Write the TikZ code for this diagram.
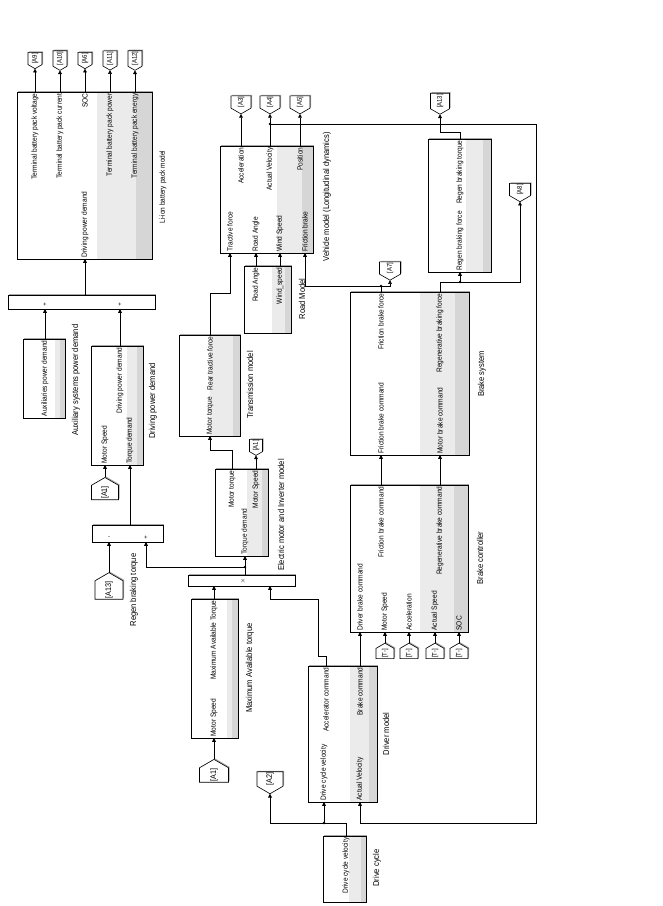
\documentclass[tikz,border=0pt]{standalone}
\usepackage{fontspec}
\setmainfont{Liberation Sans}
\newfontfamily\narrowsf[FakeStretch=0.88]{Liberation Sans}
\usetikzlibrary{arrows.meta,calc,shapes.symbols,shadows}
\newcommand{\portfont}{\narrowsf\fontsize{7.5}{8}\selectfont}
\newcommand{\capfont}{\narrowsf\fontsize{8.6}{9}\selectfont}
\newcommand{\tagfont}{\narrowsf\fontsize{6.8}{7}\selectfont}
\newcommand{\bigtagfont}{\narrowsf\fontsize{8.2}{8}\selectfont}
\tikzset{shade from/.store in=\shadefrom, shade from=0.6}
\newcommand{\upsig}[3]{%
  \draw[sig] (#1 |- #2.north) -- (#1 |- #3.south);%
}
\newcommand{\totag}[3]{%
  \draw[sig] (#1 |- #2.north) -- (#3.west);%
}
\newcommand{\fromsig}[2]{%
  \draw[sig] (#1.east) -- (#1 |- #2.south);%
}

\begin{document}
\begin{tikzpicture}[
  x=1pt,
  y=-1pt,
  line width=0.6pt,
  blk/.style={draw, fill=white, inner sep=0pt, outer sep=0pt,
    general shadow={fill=black!35, shadow xshift=1.2pt, shadow yshift=1.2pt},
    path picture={
      \fill[black!8] ($(path picture bounding box.south west)!\shadefrom!(path picture bounding box.south east)$)
        rectangle (path picture bounding box.north east);
      \fill[black!16] ($(path picture bounding box.south west)!0.88!(path picture bounding box.south east)$)
        rectangle (path picture bounding box.north east);
    }},
  sumblk/.style={draw, fill=white, inner sep=0pt, outer sep=0pt,
    general shadow={fill=black!35, shadow xshift=1.2pt, shadow yshift=1.2pt}},
  sign/.style={font=\fontsize{6}{6}\selectfont, inner sep=0pt},
  portin/.style={rotate=90, anchor=west, font=\portfont, inner sep=1.2pt},
  portout/.style={rotate=90, anchor=east, font=\portfont, inner sep=1.2pt},
  blkcap/.style={rotate=90, font=\capfont, inner sep=0pt},
  gototag/.style={rotate=90, signal, signal to=west, signal pointer angle=120, draw, fill=white,
    font=\tagfont, inner xsep=0.8pt, inner ysep=0.3pt, outer sep=0pt,
    general shadow={fill=black!35, shadow xshift=1pt, shadow yshift=1pt}},
  fromtag/.style={gototag, signal to=east},
  sig/.style={-{Triangle[length=3.8pt, width=3.8pt]}}
]
  \useasboundingbox (0,0) rectangle (663,906);

  % Battery pack component.
  \node[blk, minimum width=135pt, minimum height=167pt, shade from=0.59] (batt) at (84.5,175.5) {};
  \node[portout] (battV) at (35,92) {Terminal battery pack voltage};
  \node[portout] (battI) at (60,92) {Terminal battery pack current};
  \node[portout] (battSoc) at (85,92) {SOC};
  \node[portout] (battP) at (110,92) {Terminal battery pack power};
  \node[portout] (battE) at (135,92) {Terminal battery pack energy};
  \node[portin] (battDrv) at (85,259) {Driving power demand};
  \node[blkcap, font=\narrowsf\fontsize{7.4}{8}\selectfont] (battCap) at (163,187) {Li-ion battery pack model};
  \node[gototag, minimum height=14pt] (tA9) at (35,58.5) {[A9]};
  \node[gototag, minimum height=14pt] (tA10) at (60,58.5) {[A10]};
  \node[gototag, minimum height=14pt] (tA6) at (85,58.5) {[A6]};
  \node[gototag, minimum height=14pt] (tA11) at (110,58.5) {[A11]};
  \node[gototag, minimum height=14pt] (tA12) at (135,58.5) {[A12]};

  % Power demand component.
  \node[sumblk, minimum width=147pt, minimum height=14pt] (sumA) at (81.5,302) {};
  \node[sign] (sumAp1) at (45,305) {+};
  \node[sign] (sumAp2) at (120,305) {+};
  \node[blk, minimum width=42pt, minimum height=79pt, shade from=0.76] (aux) at (44,378.5) {};
  \node[portout] (auxOut) at (45,339) {Auxiliaries power demand};
  \node[blkcap] (auxCap) at (76,380) {Auxiliary systems power demand};
  \node[blk, minimum width=52pt, minimum height=119pt, shade from=0.69] (drvp) at (117,405.5) {};
  \node[portout] (drvpOut) at (120,346) {Driving power demand};
  \node[portin] (drvpMs) at (105,465) {Motor Speed};
  \node[portin] (drvpTd) at (130,465) {Torque demand};
  \node[blkcap] (drvpCap) at (153,401) {Driving power demand};
  \node[fromtag, minimum height=27pt, font=\bigtagfont] (fA1a) at (105,492.5) {[A1]};

  % Torque demand component.
  \node[sumblk, minimum width=71pt, minimum height=17pt] (sumB) at (127.5,533.5) {};
  \node[sign] (sumBm) at (109,538) {-};
  \node[sign] (sumBp) at (146,538) {+};
  \node[fromtag, minimum height=28pt, font=\bigtagfont] (fA13) at (109,590) {[A13]};
  \node[blkcap] (regCap) at (134,590) {Regen braking torque};
  \node[sumblk, minimum width=107pt, minimum height=11pt] (prod) at (241.5,580.5) {};
  \node[sign] (prodX) at (243,580.5) {$\times$};
  \node[blk, minimum width=47pt, minimum height=139pt, shade from=0.77] (maxT) at (214.5,668.5) {};
  \node[portout] (maxTOut) at (214,599) {Maximum Available Torque};
  \node[portin] (maxTMs) at (214,738) {Motor Speed};
  \node[blkcap] (maxTCap) at (250,668) {Maximum Available torque};
  \node[fromtag, minimum height=29pt, font=\bigtagfont] (fA1b) at (214,775) {[A1]};

  % Motor and transmission component.
  \node[blk, minimum width=53pt, minimum height=87pt, shade from=0.6] (elec) at (241.5,512.5) {};
  \node[portout] (elecMt) at (232,469) {Motor torque};
  \node[portout] (elecMs) at (256,469) {Motor Speed};
  \node[portin] (elecTd) at (245,556) {Torque demand};
  \node[blkcap] (elecCap) at (281,515) {Electric motor and Inverter model};
  \node[gototag, minimum height=13pt] (tA1) at (256,445.5) {[A1]};
  \node[blk, minimum width=61pt, minimum height=101pt, shade from=0.5] (trans) at (209.5,385.5) {};
  \node[portin] (transIn) at (210,436) {Motor torque};
  \node[portout] (transOut) at (210,335) {Rear tractive force};
  \node[blkcap] (transCap) at (250,385) {Transmission model};

  % Vehicle and road component.
  \node[blk, minimum width=93pt, minimum height=107pt, shade from=0.61] (veh) at (266.5,199.5) {};
  \node[portin] (vehTf) at (230,253) {Tractive force};
  \node[portin] (vehRa) at (256,253) {Road Angle};
  \node[portin] (vehWs) at (280,253) {Wind Speed};
  \node[portin] (vehFb) at (305,253) {Friction brake};
  \node[portout] (vehAcc) at (241,146) {Acceleration};
  \node[portout] (vehAv) at (270,146) {Actual Velocity};
  \node[portout] (vehPos) at (300,146) {Position};
  \node[blkcap] (vehCap) at (327,197) {Vehicle model (Longitudinal dynamics)};
  \node[gototag, minimum height=20pt] (tA3) at (241,102) {[A3]};
  \node[gototag, minimum height=20pt] (tA4) at (270,102) {[A4]};
  \node[gototag, minimum height=20pt] (tA5) at (300,102) {[A5]};
  \node[blk, minimum width=47pt, minimum height=67pt, shade from=0.6] (road) at (267.5,299.5) {};
  \node[portout] (roadRa) at (256,266) {Road Angle};
  \node[portout] (roadWs) at (280,266) {Wind\_speed};
  \node[blkcap] (roadCap) at (302,299) {Road Model};

  % Brake component.
  \node[blk, minimum width=119pt, minimum height=163pt, shade from=0.59] (bsys) at (409.5,373.5) {};
  \node[portin] (bsysFc) at (381,455) {Friction brake command};
  \node[portin] (bsysMc) at (440,455) {Motor brake command};
  \node[portout] (bsysFf) at (381,292) {Friction brake force};
  \node[portout] (bsysRf) at (440,292) {Regenerative braking force};
  \node[blkcap] (bsysCap) at (482,374) {Brake system};
  \node[blk, minimum width=118pt, minimum height=147pt, shade from=0.59] (bctl) at (409,558.5) {};
  \node[portin] (bctlDb) at (360,632) {Driver brake command};
  \node[portin] (bctlMs) at (385,632) {Motor Speed};
  \node[portin] (bctlAcc) at (409,632) {Acceleration};
  \node[portin] (bctlAs) at (435,632) {Actual Speed};
  \node[portin] (bctlSoc) at (459,632) {SOC};
  \node[portout] (bctlFc) at (381,485) {Friction brake command};
  \node[portout] (bctlRc) at (440,485) {Regenerative brake command};
  \node[blkcap] (bctlCap) at (480,558) {Brake controller};
  \node[fromtag, minimum height=18pt] (fT1) at (385,653.5) {[T-]};
  \node[fromtag, minimum height=18pt] (fT2) at (409,653.5) {[T-]};
  \node[fromtag, minimum height=18pt] (fT3) at (435,653.5) {[T-]};
  \node[fromtag, minimum height=18pt] (fT4) at (459,653.5) {[T-]};
  \node[blk, minimum width=63pt, minimum height=133pt, shade from=0.6] (regen) at (459.5,205.5) {};
  \node[portin] (regenIn) at (460,272) {Regen braking force};
  \node[portout] (regenOut) at (460,139) {Regen braking torque};
  \node[gototag, minimum height=19pt] (tA13) at (440,101) {[A13]};
  \node[gototag, minimum height=21pt] (tA8) at (520,189.5) {[A8]};
  \node[gototag, minimum height=21pt] (tA7) at (390,268) {[A7]};

  % Driver and drive cycle component.
  \node[blk, minimum width=69pt, minimum height=136pt, shade from=0.61] (driver) at (342.5,734) {};
  \node[portin] (drvDcv) at (324,802) {Drive cycle velocity};
  \node[portin] (drvAv) at (360,802) {Actual Velocity};
  \node[portout] (drvAcc) at (326,666) {Accelerator command};
  \node[portout] (drvBc) at (360,666) {Brake command};
  \node[blkcap] (drvCap) at (386,734) {Driver model};
  \node[blk, minimum width=43pt, minimum height=66pt, shade from=0.6] (cycle) at (344.5,869) {};
  \node[portout] (cycleOut) at (346,836) {Drive cycle velocity};
  \node[blkcap] (cycleCap) at (377,868) {Drive cycle};
  \node[gototag, minimum height=26pt, font=\bigtagfont] (tA2) at (270,779) {[A2]};

  % Branch points.
  \coordinate (jTorque) at (245,567);
  \coordinate (jVel) at (270,124);
  \coordinate (velCorner) at (536,823);
  \coordinate (jFric) at (381,286);
  \coordinate (jRegen) at (460,282);
  \coordinate (jCyc) at (324,823);

  % Power signals.
  \upsig{battDrv}{sumA}{batt}
  \upsig{sumAp1}{aux}{sumA}
  \upsig{sumAp2}{drvp}{sumA}
  \totag{battV}{batt}{tA9}
  \totag{battI}{batt}{tA10}
  \totag{battSoc}{batt}{tA6}
  \totag{battP}{batt}{tA11}
  \totag{battE}{batt}{tA12}
  \fromsig{fA1a}{drvp}
  \upsig{drvpTd}{sumB}{drvp}
  \fromsig{fA13}{sumB}

  % Torque signals.
  \upsig{elecTd}{prod}{elec}
  \draw[sig] (jTorque) -| (sumBp |- sumB.south);
  \upsig{maxTOut}{maxT}{prod}
  \fromsig{fA1b}{maxT}
  \draw[sig] (drvAcc |- driver.north) -- ++(0,-10) -| ++(-8,-57) -| ($(prod.south east)+(-25,0)$);
  \draw[sig] (elecMt |- elec.north) -- ++(0,-19) -| (transIn |- trans.south);
  \totag{elecMs}{elec}{tA1}
  \draw[sig] (transOut |- trans.north) -- ++(0,-42) -| (vehTf |- veh.south);

  % Vehicle signals.
  \upsig{roadRa}{road}{veh}
  \upsig{roadWs}{road}{veh}
  \totag{vehAcc}{veh}{tA3}
  \totag{vehAv}{veh}{tA4}
  \totag{vehPos}{veh}{tA5}
  \draw[sig] (jVel) -| (velCorner) -| (drvAv |- driver.south);

  % Brake signals.
  \draw (bsysFf |- bsys.north) -- (jFric);
  \draw[sig] (jFric) -| (tA7.west);
  \draw[sig] (jFric) -| (vehFb |- veh.south);
  \draw (bsysRf |- bsys.north) |- (jRegen);
  \draw[sig] (jRegen) -| (tA8.west);
  \draw[sig] (jRegen) -- (regenIn |- regen.south);
  \draw[sig] (regenOut |- regen.north) -- ++(0,-7) -| (tA13.west);
  \upsig{bsysFc}{bctl}{bsys}
  \upsig{bsysMc}{bctl}{bsys}
  \upsig{bctlDb}{driver}{bctl}
  \fromsig{fT1}{bctl}
  \fromsig{fT2}{bctl}
  \fromsig{fT3}{bctl}
  \fromsig{fT4}{bctl}

  % Drive cycle signals.
  \draw (cycleOut |- cycle.north) |- (jCyc);
  \draw[sig] (jCyc) -- (drvDcv |- driver.south);
  \draw[sig] (jCyc) -| (tA2.west);

  % Branch dots.
  \foreach \j in {jTorque, jVel, jFric, jRegen, jCyc}
    \fill (\j) circle (1.3pt);
\end{tikzpicture}
\end{document}
